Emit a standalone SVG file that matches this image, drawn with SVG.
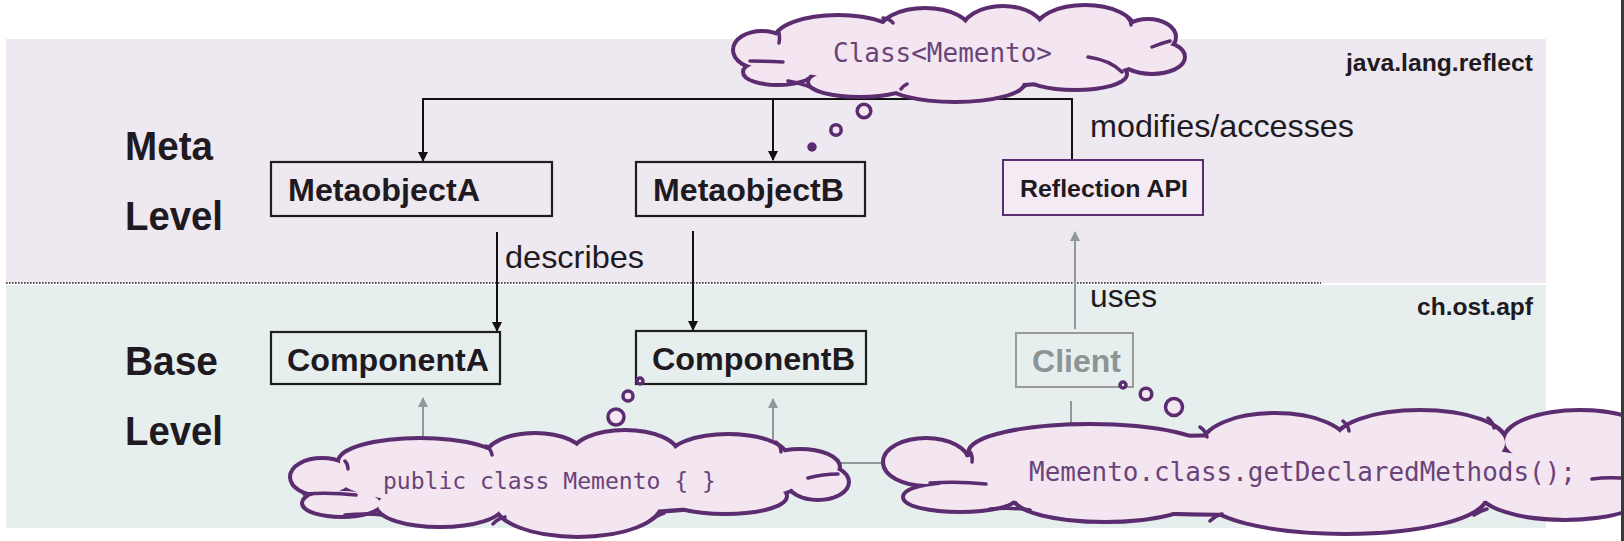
<svg xmlns="http://www.w3.org/2000/svg" xmlns:xlink="http://www.w3.org/1999/xlink" width="1624" height="541" viewBox="0 0 1624 541">
<style>
.band-meta{fill:#EEE8F0}
.band-base{fill:#E6EEEE}
.box{fill:none;stroke:#1e1e1e;stroke-width:2.2}
.box-api{fill:#F4EAF4;stroke:#5B2C6F;stroke-width:2}
.box-client{fill:none;stroke:#9a9a9a;stroke-width:2}
.lbl{font-family:"Liberation Sans",Arial,sans-serif;fill:#1f1a1f}
.b{font-weight:bold}
.gray{fill:#8c9494}
.conn{fill:none;stroke:#111;stroke-width:2}
.gconn{fill:none;stroke:#8f9999;stroke-width:2}
.cs{fill:#5B2C6F;stroke:#5B2C6F;stroke-width:8}
.cf{fill:#F3E6F1;stroke:none}
.ci{fill:none;stroke:#5B2C6F;stroke-width:3.5;stroke-linecap:round}
.bub{fill:#F3E6F1;stroke:#5B2C6F;stroke-width:3.5}
.dot{fill:#5B2C6F;stroke:#5B2C6F;stroke-width:1.5}
.mono{font-family:"DejaVu Sans Mono","Liberation Mono",monospace;fill:#6a4479}
</style>
<defs>
<marker id="ah" markerUnits="userSpaceOnUse" viewBox="0 0 10 10" markerWidth="10" markerHeight="10" refX="9" refY="5" orient="auto">
<path d="M0,0 L10,5 L0,10 z" fill="#111"/>
</marker>
<marker id="ahg" markerUnits="userSpaceOnUse" viewBox="0 0 10 10" markerWidth="10" markerHeight="11" refX="9" refY="5" orient="auto">
<path d="M0,0 L10,5 L0,10 z" fill="#8f9999"/>
</marker>
<g id="c1">
<ellipse cx="762" cy="50" rx="27" ry="17"/>
<ellipse cx="778" cy="72" rx="33" ry="11"/>
<ellipse cx="860" cy="82" rx="50" ry="13"/>
<ellipse cx="955" cy="82" rx="68" ry="18"/>
<ellipse cx="1075" cy="74" rx="50" ry="14"/>
<ellipse cx="838" cy="40" rx="62" ry="23"/>
<ellipse cx="925" cy="33" rx="45" ry="23"/>
<ellipse cx="1003" cy="32" rx="40" ry="24"/>
<ellipse cx="1085" cy="30" rx="48" ry="23"/>
<ellipse cx="1148" cy="37" rx="26" ry="16"/>
<ellipse cx="1152" cy="57" rx="31" ry="15"/>
<ellipse cx="955" cy="55" rx="190" ry="30"/>
</g>
<g id="c2">
<ellipse cx="322" cy="477" rx="30" ry="17"/>
<ellipse cx="342" cy="503" rx="38" ry="12"/>
<ellipse cx="420" cy="462" rx="80" ry="22"/>
<ellipse cx="535" cy="457" rx="48" ry="22"/>
<ellipse cx="625" cy="455" rx="52" ry="23"/>
<ellipse cx="728" cy="458" rx="58" ry="22"/>
<ellipse cx="800" cy="467" rx="38" ry="16"/>
<ellipse cx="818" cy="482" rx="29" ry="16"/>
<ellipse cx="725" cy="496" rx="60" ry="16"/>
<ellipse cx="578" cy="503" rx="82" ry="32"/>
<ellipse cx="440" cy="505" rx="62" ry="20"/>
<ellipse cx="570" cy="480" rx="230" ry="32"/>
</g>
<g id="c3">
<ellipse cx="926" cy="462" rx="41" ry="22"/>
<ellipse cx="960" cy="497" rx="55" ry="13"/>
<ellipse cx="1090" cy="453" rx="120" ry="27"/>
<ellipse cx="1275" cy="446" rx="72" ry="31"/>
<ellipse cx="1420" cy="443" rx="85" ry="31"/>
<ellipse cx="1580" cy="441" rx="75" ry="29"/>
<ellipse cx="1645" cy="472" rx="40" ry="32"/>
<ellipse cx="1565" cy="490" rx="85" ry="28"/>
<ellipse cx="1345" cy="496" rx="140" ry="36"/>
<ellipse cx="1105" cy="497" rx="90" ry="23"/>
<ellipse cx="1250" cy="475" rx="320" ry="38"/>
</g>
</defs>
<rect x="0" y="0" width="1624" height="541" fill="#ffffff"/>
<g id="bands">
<rect class="band-meta" x="6" y="39" width="1540" height="244"/>
<rect class="band-base" x="6" y="285" width="1540" height="243"/>
<line x1="6" y1="283" x2="1321" y2="283" stroke="#222" stroke-width="1.4" stroke-dasharray="1.6 1.4"/>
</g>
<g id="level-labels">
<text class="lbl b" x="125" y="160" font-size="40" textLength="88" lengthAdjust="spacingAndGlyphs">Meta</text>
<text class="lbl b" x="125" y="230" font-size="40" textLength="98" lengthAdjust="spacingAndGlyphs">Level</text>
<text class="lbl b" x="125" y="375" font-size="40" textLength="93" lengthAdjust="spacingAndGlyphs">Base</text>
<text class="lbl b" x="125" y="445" font-size="40" textLength="98" lengthAdjust="spacingAndGlyphs">Level</text>
<text class="lbl b" x="1346" y="71" font-size="24" textLength="187" lengthAdjust="spacingAndGlyphs">java.lang.reflect</text>
<text class="lbl b" x="1417" y="315" font-size="24" textLength="116" lengthAdjust="spacingAndGlyphs">ch.ost.apf</text>
</g>
<g id="connectors">
<path class="conn" d="M1072,160 V99 H423 V161" marker-end="url(#ah)"/>
<path class="conn" d="M773,99 V160" marker-end="url(#ah)"/>
<path class="conn" d="M497,232 V331" marker-end="url(#ah)"/>
<path class="conn" d="M693,231 V330" marker-end="url(#ah)"/>
<path class="gconn" d="M1075,329 V232" marker-end="url(#ahg)"/>
<path class="gconn" d="M1071,401 V463 H423 V398" marker-end="url(#ahg)"/>
<path class="gconn" d="M773,463 V399" marker-end="url(#ahg)"/>
<text class="lbl" x="505" y="268" font-size="32" textLength="139" lengthAdjust="spacingAndGlyphs">describes</text>
<text class="lbl" x="1090" y="137" font-size="32" textLength="264" lengthAdjust="spacingAndGlyphs">modifies/accesses</text>
<text class="lbl" x="1090" y="307" font-size="32" textLength="67" lengthAdjust="spacingAndGlyphs">uses</text>
</g>
<g id="MetaobjectA">
<rect class="box" x="271" y="162" width="281" height="54"/>
<text class="lbl b" x="288" y="201" font-size="32" textLength="192" lengthAdjust="spacingAndGlyphs">MetaobjectA</text>
</g>
<g id="MetaobjectB">
<rect class="box" x="636" y="162" width="229" height="54"/>
<text class="lbl b" x="653" y="201" font-size="32" textLength="191" lengthAdjust="spacingAndGlyphs">MetaobjectB</text>
</g>
<g id="ReflectionAPI">
<rect class="box-api" x="1003" y="160" width="200" height="55"/>
<text class="lbl b" x="1020" y="197" font-size="24" textLength="168" lengthAdjust="spacingAndGlyphs">Reflection API</text>
</g>
<g id="ComponentA">
<rect class="box" x="271" y="332" width="229" height="52"/>
<text class="lbl b" x="287" y="371" font-size="32" textLength="202" lengthAdjust="spacingAndGlyphs">ComponentA</text>
</g>
<g id="ComponentB">
<rect class="box" x="636" y="331" width="230" height="53"/>
<text class="lbl b" x="652" y="370" font-size="32" textLength="203" lengthAdjust="spacingAndGlyphs">ComponentB</text>
</g>
<g id="Client">
<rect class="box-client" x="1016" y="333" width="117" height="54"/>
<text class="lbl b gray" x="1032" y="372" font-size="32" textLength="89" lengthAdjust="spacingAndGlyphs">Client</text>
</g>
<g id="cloud-class">
<use xlink:href="#c1" class="cs"/>
<use xlink:href="#c1" class="cf"/>
<path class="ci" d="M750,61 Q767,61 783,62 M779,33 Q780,37 779,43 M788,81 Q806,84 818,91 M901,89 Q903,86 907,84 M883,18 Q890,19 893,23 M1019,91 Q1022,87 1027,85 M1170,41 Q1162,43 1152,47 M1088,57 Q1110,60 1122,72 M1128,18 Q1131,21 1131,25"/>
<circle class="bub" cx="864" cy="111" r="6.8"/>
<circle class="bub" cx="836" cy="130" r="5.2"/>
<circle class="dot" cx="812" cy="147" r="4"/>
<text class="mono" x="833" y="62" font-size="26" textLength="219" lengthAdjust="spacingAndGlyphs">Class&lt;Memento&gt;</text>
</g>
<g id="cloud-memento">
<use xlink:href="#c2" class="cs"/>
<use xlink:href="#c2" class="cf"/>
<path class="ci" d="M304,494 Q330,492 356,495 M345,515 Q365,513 383,515 M345,461 Q348,464 348,469 M486,446 Q491,449 492,455 M493,524 Q497,519 505,517 M652,519 Q658,515 664,513 M808,478 Q823,474 838,474 M776,442 Q781,446 781,452"/>
<circle class="bub" cx="616" cy="417" r="8"/>
<circle class="bub" cx="628" cy="396" r="5"/>
<circle class="bub" cx="640" cy="381" r="3" stroke-width="3"/>
<text class="mono" x="383" y="489" font-size="23" textLength="333" lengthAdjust="spacingAndGlyphs">public class Memento { }</text>
</g>
<g id="cloud-call">
<use xlink:href="#c3" class="cs"/>
<use xlink:href="#c3" class="cf"/>
<path class="ci" d="M930,483 Q958,481 986,484 M990,509 Q1010,507 1030,510 M969,450 Q973,455 972,462 M1200,427 Q1206,431 1207,437 M1343,421 Q1348,425 1349,431 M1210,521 Q1215,516 1222,514 M1474,515 Q1480,511 1487,509 M1488,418 Q1493,422 1494,428 M1592,479 Q1606,477 1621,478"/>
<circle class="bub" cx="1174" cy="407" r="8.5"/>
<circle class="bub" cx="1146" cy="394" r="5.8"/>
<circle class="bub" cx="1123" cy="385" r="3" stroke-width="3"/>
<text class="mono" x="1029" y="481" font-size="26" textLength="547" lengthAdjust="spacingAndGlyphs">Memento.class.getDeclaredMethods();</text>
</g>
<rect x="1621" y="0" width="3" height="541" fill="#3a3a3a"/>
</svg>
